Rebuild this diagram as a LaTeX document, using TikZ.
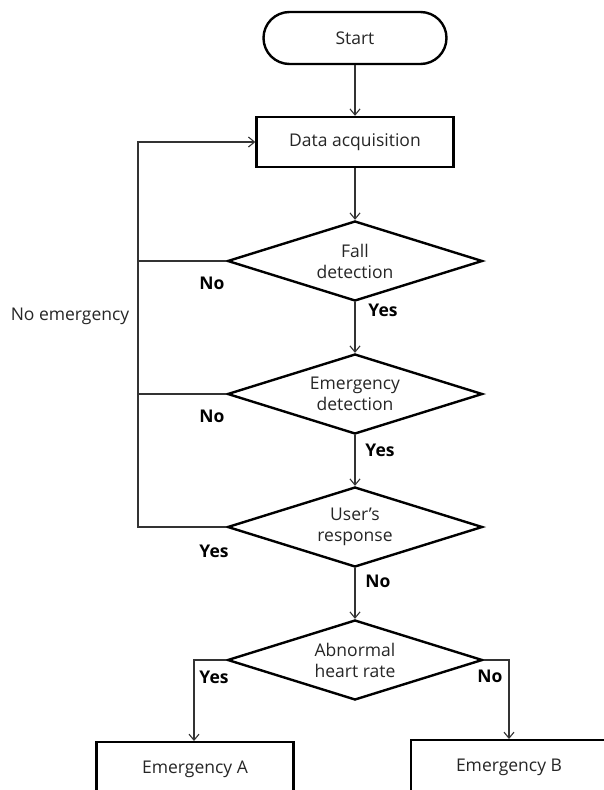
\documentclass[tikz,border=0pt]{standalone}
\usepackage{fontspec}
\setmainfont{Open Sans}
\usetikzlibrary{shapes.geometric,arrows.meta}
\begin{document}
\begin{tikzpicture}[x=1pt,y=-1pt,
  every node/.style={font=\fontsize{17.5}{21}\selectfont, text=black!85},
  shapebox/.style={draw=black, line width=2.4pt, rectangle, minimum width=197pt, minimum height=50pt, inner sep=0pt},
  termbox/.style={draw=black, line width=2.4pt, rectangle, rounded corners=26pt, minimum width=183pt, minimum height=52pt, inner sep=0pt},
  decbox/.style={draw=black, line width=2.4pt, diamond, shape aspect=3.19, minimum width=255pt, minimum height=80pt, inner sep=0pt, align=center},
  lbl/.style={font=\fontsize{17.5}{21}\selectfont\bfseries, text=black},
  conn/.style={line width=1.2pt, draw=black!80},
  arr/.style={conn, -{Straight Barb[length=6pt,width=10pt,line width=1.1pt]}}
]
\useasboundingbox (0,0) rectangle (604,790);
\fill[white] (0,0) rectangle (604,790);
\node[termbox] (start) at (355,38) {Start};
\node[shapebox] (data) at (355,142) {Data acquisition};
\node[decbox] (fall) at (355,261) {Fall\\detection};
\node[decbox] (emer) at (355,394) {Emergency\\detection};
\node[decbox] (user) at (355,527) {User's\\response};
\node[decbox] (abn) at (355,660) {Abnormal\\heart rate};
\node[shapebox, minimum height=60pt, anchor=north] (ea) at (195,741) {};
\node at (195,769) (eatext) {Emergency A};
\node[shapebox, minimum width=220pt, minimum height=60pt, anchor=north west] (eb) at (410,739) {};
\node at (509,767) (ebtext) {Emergency B};

\coordinate (lb) at (138,527);
\coordinate (lt) at (138,142);
\coordinate (ra) at (194,660);
\coordinate (rb) at (509,660);

\draw[arr] (start) -- (data);
\draw[arr] (data) -- (fall);
\draw[arr] (fall) -- (emer);
\draw[arr] (emer) -- (user);
\draw[arr] (user) -- (abn);
\draw[arr] (user.west) -- (lb) -- (lt) -- (data.west);
\draw[conn] (fall.west) -- (fall.west -| lb);
\draw[conn] (emer.west) -- (emer.west -| lb);
\draw[arr] (abn.west) -- (ra) -- (ea.north -| ra);
\draw[arr] (abn.east) -- (rb) -- (eb.north -| rb);

\node[lbl] (n1) at (212,283) {No};
\node[lbl] (y1) at (383,310) {Yes};
\node[lbl] (n2) at (212,416) {No};
\node[lbl] (y2) at (380,450) {Yes};
\node[lbl] (y3) at (214,551) {Yes};
\node[lbl] (n3) at (378,581) {No};
\node[lbl] (y4) at (214,677) {Yes};
\node[lbl] (n4) at (490,676) {No};
\node (noem) at (70,316) {No emergency};
\end{tikzpicture}
\end{document}
